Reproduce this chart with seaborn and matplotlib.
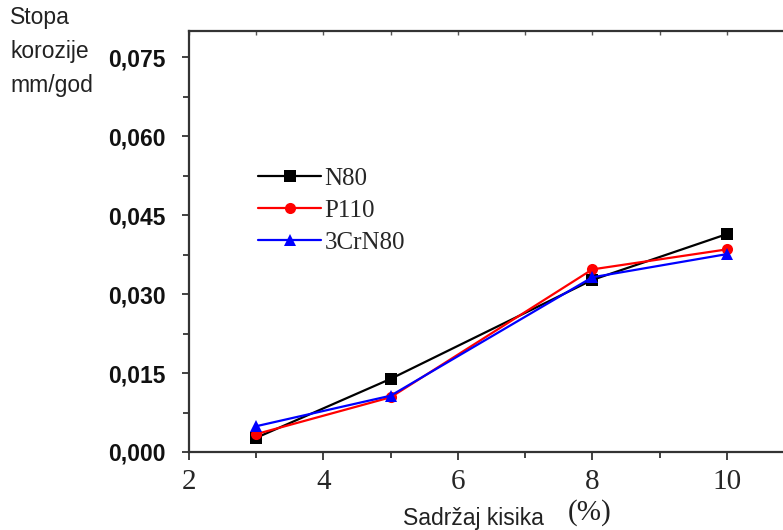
import pandas as pd
import matplotlib
matplotlib.use("Agg")
import matplotlib.pyplot as plt
from matplotlib.ticker import MultipleLocator, FixedLocator, FixedFormatter
import seaborn as sns

# values
oxygen = [3, 5, 8, 10]
n80 = [0.0027, 0.0139, 0.0327, 0.0414]
p110 = [0.0034, 0.0104, 0.0347, 0.0385]
cr3n80 = [0.0049, 0.0107, 0.0332, 0.0376]
series_names = ["N80", "P110", "3CrN80"]
y_ticks = [0.0, 0.015, 0.030, 0.045, 0.060, 0.075]
y_labels = ["0,000", "0,015", "0,030", "0,045", "0,060", "0,075"]
x_ticks = [2, 4, 6, 8, 10]

df = pd.DataFrame({
    "x": oxygen * 3,
    "y": n80 + p110 + cr3n80,
    "steel": [s for s in series_names for _ in oxygen],
})

sns.set_style("white")
fig = plt.figure(figsize=(7.83, 5.30), dpi=100)
ax = fig.add_axes([189 / 783, 1 - 452 / 530, 605 / 783, 421 / 530])

colors = {"N80": "black", "P110": "red", "3CrN80": "blue"}
marks = {"N80": "s", "P110": "o", "3CrN80": "^"}
sns.lineplot(data=df, x="x", y="y", hue="steel", style="steel",
             palette=colors, markers=marks, dashes=False, markersize=8,
             markeredgewidth=0, linewidth=1.6, ax=ax, legend=False)

ax.set_xlim(2, 11)
ax.set_ylim(0, 0.08)

ax.xaxis.set_major_locator(FixedLocator(x_ticks))
ax.xaxis.set_minor_locator(MultipleLocator(1))
ax.yaxis.set_major_locator(FixedLocator(y_ticks))
ax.yaxis.set_major_formatter(FixedFormatter(y_labels))
ax.yaxis.set_minor_locator(MultipleLocator(0.0075))

ax.tick_params(axis="x", which="major", direction="out", length=6, width=1.3,
               color="#333333", labelsize=21, pad=6, bottom=True, top=False)
ax.tick_params(axis="x", which="minor", direction="out", length=4, width=1.3,
               color="#333333", bottom=True, top=False)
ax.tick_params(axis="y", which="major", direction="out", length=5, width=1.3,
               color="#333333", labelsize=16.5, pad=12, left=True)
ax.tick_params(axis="y", which="minor", direction="out", length=4, width=1.3,
               color="#333333", left=True)
for lab in ax.get_xticklabels():
    lab.set_family("Liberation Serif")
for lab in ax.get_yticklabels():
    lab.set_family("Liberation Sans")
    lab.set_fontweight("bold")
    lab.set_color("#111111")

# small inward marks along the top spine
top = ax.secondary_xaxis("top")
top.xaxis.set_major_locator(MultipleLocator(1))
top.tick_params(direction="in", length=3, width=1.0, color="#555555",
                labeltop=False)
top.spines["top"].set_visible(False)

for side in ["left", "bottom", "top"]:
    ax.spines[side].set_visible(True)
    ax.spines[side].set_color("#333333")
    ax.spines[side].set_linewidth(1.6)
ax.spines["right"].set_visible(False)

ax.set_xlabel("")
ax.set_ylabel("")

handles = [plt.Line2D([], [], color=colors[s], marker=marks[s], markersize=8,
                      markeredgewidth=0, linewidth=1.6) for s in series_names]
ax.legend(handles, series_names, loc="upper left", bbox_to_anchor=(0.098, 0.70),
          borderaxespad=0, frameon=False, handlelength=2.5, handletextpad=0.15,
          labelspacing=0.38, prop={"family": "Liberation Serif", "size": 18})

fig.text(10 / 783, 1 - 6 / 530, "Stopa\nkorozije\nmm/god", ha="left", va="top",
         fontsize=16.5, family="Liberation Sans", linespacing=1.6, color="#222222")
fig.text(473 / 783, 1 - 518 / 530, "Sadržaj kisika", ha="center", va="center",
         fontsize=16.5, family="Liberation Sans", color="#222222")
fig.text(590 / 783, 1 - 513 / 530, "(%)", ha="center", va="center",
         fontsize=21, family="Liberation Serif", color="#222222")

fig.savefig("out.png", dpi=100)
